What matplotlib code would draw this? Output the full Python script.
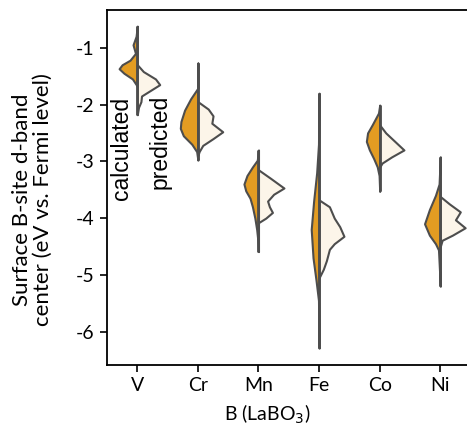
import numpy as np
import matplotlib.pyplot as plt

# B-site elements
elements = ['V', 'Cr', 'Mn', 'Fe', 'Co', 'Ni']

# half-violin profiles: (d-band centre, half width)
v_calc_y = [-0.62, -0.80, -0.95, -1.10, -1.22, -1.30, -1.37, -1.45, -1.55, -1.68]
v_calc_w = [0.00, 0.02, 0.07, 0.03, 0.12, 0.25, 0.30, 0.22, 0.08, 0.00]
v_pred_y = [-1.30, -1.42, -1.55, -1.65, -1.75, -1.85, -1.95, -2.05, -2.18]
v_pred_w = [0.00, 0.10, 0.30, 0.37, 0.22, 0.07, 0.06, 0.02, 0.00]

cr_calc_y = [-1.27, -1.71, -1.90, -2.10, -2.30, -2.42, -2.55, -2.70, -2.83, -2.98]
cr_calc_w = [0.00, 0.00, 0.12, 0.22, 0.28, 0.29, 0.24, 0.10, 0.02, 0.00]
cr_pred_y = [-1.95, -2.08, -2.20, -2.33, -2.48, -2.60, -2.72, -2.83, -2.90]
cr_pred_w = [0.00, 0.17, 0.25, 0.23, 0.41, 0.25, 0.08, 0.02, 0.00]

mn_calc_y = [-2.80, -2.98, -3.10, -3.25, -3.40, -3.52, -3.65, -3.80, -4.00, -4.20, -4.40, -4.59]
mn_calc_w = [0.00, 0.02, 0.10, 0.19, 0.24, 0.21, 0.14, 0.10, 0.06, 0.03, 0.01, 0.00]
mn_pred_y = [-3.15, -3.30, -3.47, -3.58, -3.70, -3.80, -3.90, -4.00, -4.08]
mn_pred_w = [0.00, 0.20, 0.42, 0.25, 0.15, 0.18, 0.23, 0.12, 0.00]

fe_calc_y = [-1.80, -2.70, -3.20, -3.70, -4.20, -4.70, -5.10, -5.45, -6.29]
fe_calc_w = [0.00, 0.01, 0.04, 0.09, 0.13, 0.10, 0.05, 0.01, 0.00]
fe_pred_y = [-3.68, -3.80, -4.00, -4.15, -4.32, -4.45, -4.55, -4.75, -4.90, -5.05]
fe_pred_w = [0.00, 0.17, 0.25, 0.34, 0.41, 0.25, 0.17, 0.12, 0.07, 0.00]

co_calc_y = [-2.01, -2.15, -2.35, -2.50, -2.65, -2.80, -2.95, -3.10, -3.25, -3.53]
co_calc_w = [0.00, 0.02, 0.12, 0.20, 0.22, 0.17, 0.10, 0.04, 0.01, 0.00]
co_pred_y = [-2.36, -2.50, -2.65, -2.80, -2.92, -3.03, -3.10]
co_pred_w = [0.00, 0.10, 0.25, 0.40, 0.20, 0.04, 0.00]

ni_calc_y = [-2.92, -3.40, -3.60, -3.85, -4.10, -4.30, -4.45, -4.56, -5.20]
ni_calc_w = [0.00, 0.02, 0.08, 0.18, 0.26, 0.18, 0.08, 0.03, 0.00]
ni_pred_y = [-3.62, -3.75, -3.89, -4.03, -4.17, -4.30, -4.39, -4.50]
ni_pred_w = [0.00, 0.15, 0.33, 0.25, 0.41, 0.20, 0.03, 0.00]

calc = [(v_calc_y, v_calc_w), (cr_calc_y, cr_calc_w), (mn_calc_y, mn_calc_w),
        (fe_calc_y, fe_calc_w), (co_calc_y, co_calc_w), (ni_calc_y, ni_calc_w)]
pred = [(v_pred_y, v_pred_w), (cr_pred_y, cr_pred_w), (mn_pred_y, mn_pred_w),
        (fe_pred_y, fe_pred_w), (co_pred_y, co_pred_w), (ni_pred_y, ni_pred_w)]

orange = '#e39c22'
cream = '#fcf5e9'
edge = '#4d4d4d'

plt.rcParams['font.family'] = ['Lato', 'DejaVu Sans']

fig = plt.figure(figsize=(4.67, 4.34), dpi=100)
ax = fig.add_axes([0.2291, 0.159, 0.7786, 0.818])

for i, ((cy, cw), (py, pw)) in enumerate(zip(calc, pred)):
    cy, cw = np.array(cy), np.array(cw)
    py, pw = np.array(py), np.array(pw)
    ax.fill_betweenx(cy, i - cw, i, facecolor=orange, edgecolor=edge,
                     linewidth=1.5, joinstyle='round', zorder=2)
    ax.fill_betweenx(py, i, i + pw, facecolor=cream, edgecolor=edge,
                     linewidth=1.5, joinstyle='round', zorder=2)
    lo = min(cy.min(), py.min())
    hi = max(cy.max(), py.max())
    ax.plot([i, i], [lo, hi], color=edge, linewidth=2, solid_capstyle='butt', zorder=3)

ax.text(-0.26, -1.87, 'calculated', rotation=90, ha='center', va='top',
        fontsize=16.5, family=['Liberation Sans', 'DejaVu Sans'])
ax.text(0.37, -1.83, 'predicted', rotation=90, ha='center', va='top',
        fontsize=16.5, family=['Liberation Sans', 'DejaVu Sans'])

ax.set_xlim(-0.5, 5.5)
ax.set_ylim(-6.586, -0.336)
ax.set_xticks(range(len(elements)))
ax.set_xticklabels(elements)
ax.set_yticks([-1, -2, -3, -4, -5, -6])
ax.set_yticklabels(['-1', '-2', '-3', '-4', '-5', '-6'])
ax.tick_params(labelsize=14, length=5, width=1.2, pad=4)
for s in ax.spines.values():
    s.set_linewidth(1.3)

ax.set_ylabel('Surface B-site d-band\ncenter (eV vs. Fermi level)', fontsize=16,
              linespacing=1.0)
ax.yaxis.set_label_coords(-0.15, 0.465)
ax.set_xlabel('B (LaBO$_3$)', fontsize=14)
ax.xaxis.set_label_coords(0.44, -0.105)

fig.savefig('out.png', dpi=100)
